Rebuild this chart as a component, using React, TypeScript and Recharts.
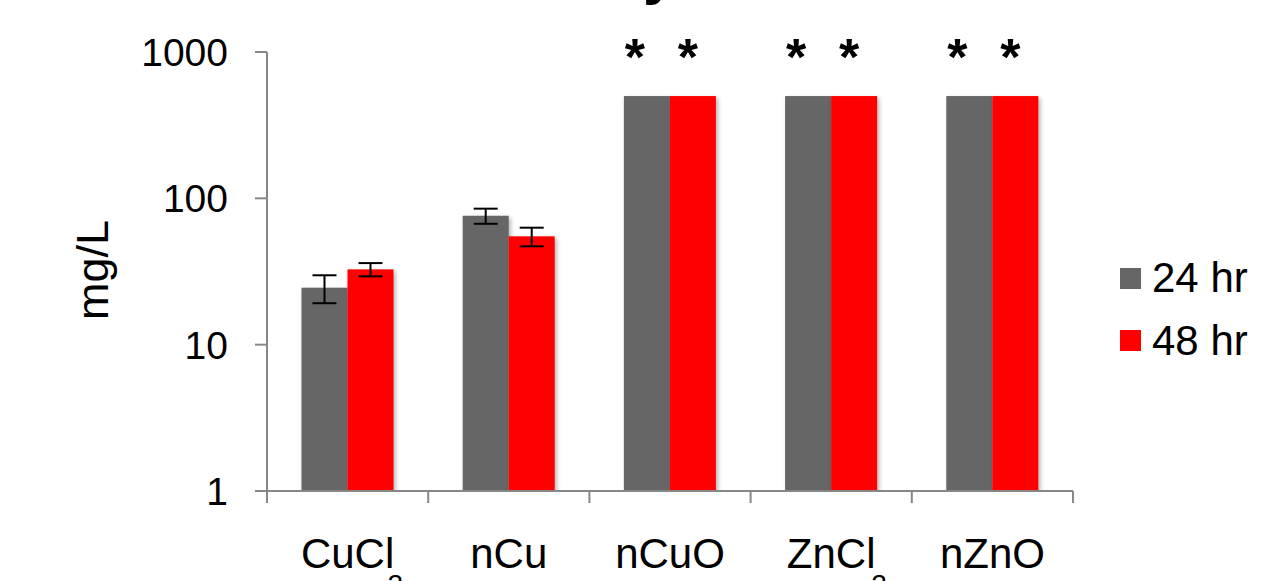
import { BarChart, Bar, XAxis, YAxis, ErrorBar, LabelList } from "recharts";

// Categories (base text + subscript, the subscript is drawn lowered)
const categories = ["CuCl", "nCu", "nCuO", "ZnCl", "nZnO"];
const subscripts = ["2", "", "", "2", ""];

// mg/L
const values24 = [24.5, 76, 500, 500, 500];
const errors24 = [5.3, 9, null, null, null];
const values48 = [32.7, 55, 500, 500, 500];
const errors48 = [3.4, 8, null, null, null];

// asterisks above the capped bars
const marked24 = [false, false, true, true, true];
const marked48 = [false, false, true, true, true];

const yTicks = [1, 10, 100, 1000];

const series = [
  { key: "v24", errKey: "e24", name: "24 hr", color: "#666666", marks: marked24, starDx: -12 },
  { key: "v48", errKey: "e48", name: "48 hr", color: "#ff0000", marks: marked48, starDx: -5 },
];

const data = categories.map((name, i) => ({
  name,
  sub: subscripts[i],
  v24: values24[i],
  e24: errors24[i],
  v48: values48[i],
  e48: errors48[i],
}));

const FONT = "'Liberation Sans', Arial, sans-serif";
const AXIS = "#878787";
const WIDTH = 1266;
const HEIGHT = 581;
const PLOT_LEFT = 267;
const PLOT_RIGHT = 1073;
const BAND = (PLOT_RIGHT - PLOT_LEFT) / categories.length;

function ShadowBar(props: any) {
  const { x, y, width, height, fill } = props;
  if (!height || height <= 0) return null;
  return (
    <rect
      x={x}
      y={y}
      width={width}
      height={height}
      fill={fill}
      style={{ filter: "drop-shadow(2px 2px 2px rgba(0,0,0,0.3))" }}
    />
  );
}

function CategoryTick(props: any) {
  const { x, y, payload, index } = props;
  const i = payload.index ?? index;
  const sub = subscripts[i] || "";
  const left = x - BAND / 2;
  const right = x + BAND / 2;
  const isLast = i === categories.length - 1;
  return (
    <g>
      <line x1={left} y1={y} x2={left} y2={y + 12} stroke={AXIS} strokeWidth={2} />
      {isLast && <line x1={right} y1={y} x2={right} y2={y + 12} stroke={AXIS} strokeWidth={2} />}
      <text x={x} y={y + 77} textAnchor="middle" fontSize={42} fontFamily={FONT} fill="#000">
        {payload.value}
      </text>
      {sub && (
        <text x={x + 40} y={y + 103} textAnchor="start" fontSize={28} fontFamily={FONT} fill="#000">
          {sub}
        </text>
      )}
    </g>
  );
}

function starContent(marks: boolean[], dx: number) {
  return (p: any) => {
    const { x, y, width, index } = p;
    if (!marks[index]) return null;
    return (
      <text
        x={x + width / 2 + dx}
        y={y - 21}
        textAnchor="middle"
        fontSize={52}
        fontWeight="bold"
        fontFamily={FONT}
        fill="#000"
      >
        *
      </text>
    );
  };
}

export default function App() {
  return (
    <div style={{ position: "absolute", left: 0, top: 0, width: WIDTH, height: HEIGHT, background: "#fff", overflow: "hidden" }}>
      {/* tail of the cropped title */}
      <svg style={{ position: "absolute", left: 0, top: 0 }} width={WIDTH} height={40}>
        <text x={643} y={-7} fontSize={60} fontWeight="bold" fontFamily={FONT} fill="#000">y</text>
      </svg>

      <BarChart
        width={WIDTH}
        height={HEIGHT}
        data={data}
        margin={{ top: 52, right: WIDTH - PLOT_RIGHT, bottom: 0, left: 0 }}
        barCategoryGap="21.4%"
        barGap={0}
      >
        <XAxis
          dataKey="name"
          height={90}
          axisLine={{ stroke: AXIS, strokeWidth: 2 }}
          tickLine={false}
          tickSize={0}
          tickMargin={0}
          tick={<CategoryTick />}
          interval={0}
        />
        <YAxis
          scale="log"
          domain={[1, 1000]}
          ticks={yTicks}
          allowDataOverflow
          width={PLOT_LEFT}
          axisLine={{ stroke: AXIS, strokeWidth: 2 }}
          tickLine={{ stroke: AXIS, strokeWidth: 2 }}
          tickSize={12}
          tickMargin={27}
          tick={{ fontSize: 39, fontFamily: FONT, fill: "#000" }}
          label={{
            content: () => (
              <text
                x={108}
                y={270}
                transform="rotate(-90 108 270)"
                textAnchor="middle"
                fontSize={45}
                fontFamily={FONT}
                fill="#000"
              >
                mg/L
              </text>
            ),
          }}
        />
        {series.map((s) => (
          <Bar key={s.key} dataKey={s.key} name={s.name} fill={s.color} shape={<ShadowBar />} isAnimationActive={false}>
            <ErrorBar dataKey={s.errKey} width={12} stroke="#000" strokeWidth={2} direction="y" />
            <LabelList dataKey={s.key} content={starContent(s.marks, s.starDx)} />
          </Bar>
        ))}
      </BarChart>

      {/* legend */}
      <div style={{ position: "absolute", left: 1120, top: 247, fontFamily: FONT }}>
        {series.map((s) => (
          <div key={s.key} style={{ display: "flex", alignItems: "center", height: 62.5 }}>
            <div style={{ width: 21, height: 21, background: s.color, marginRight: 11 }} />
            <span style={{ fontSize: 42, color: "#000", lineHeight: 1 }}>{s.name}</span>
          </div>
        ))}
      </div>
    </div>
  );
}
